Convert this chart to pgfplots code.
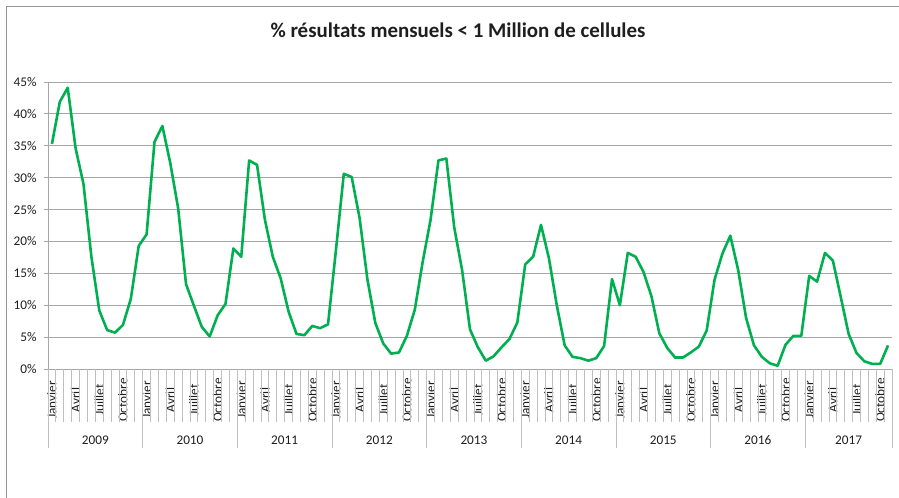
\documentclass[border=0pt]{standalone}
\usepackage{pgfplots}
\usepackage{pgfplotstable}
\pgfplotsset{compat=1.18}
\usepackage{fontspec}
\setmainfont{Carlito}
\definecolor{xlgreen}{RGB}{0,176,80}
\definecolor{gridgray}{RGB}{166,166,166}
\definecolor{sepgray}{RGB}{191,191,191}
\definecolor{framegray}{RGB}{150,150,150}
\definecolor{txt}{RGB}{30,30,30}
\pgfplotstableread{
v
35.3
41.9
44.1
34.6
29.0
17.6
9.2
6.1
5.7
6.9
11.0
19.3
21.1
35.6
38.1
32.3
25.2
13.3
9.9
6.6
5.1
8.4
10.2
18.9
17.6
32.7
32.0
23.4
17.6
14.2
9.0
5.5
5.3
6.75
6.4
7.0
18.6
30.6
30.1
23.7
14.0
7.2
4.0
2.4
2.6
5.2
9.3
16.8
23.4
32.7
33.0
22.2
15.5
6.2
3.4
1.3
2.0
3.4
4.7
7.3
16.4
17.6
22.6
17.4
10.0
3.7
1.9
1.7
1.3
1.7
3.6
14.1
10.0
18.2
17.6
15.2
11.4
5.6
3.3
1.8
1.8
2.6
3.5
6.0
14.0
18.1
20.9
15.5
8.0
3.7
1.9
0.9
0.5
3.8
5.2
5.2
14.6
13.7
18.2
17.0
11.3
5.5
2.5
1.2
0.8
0.8
3.7
}\datatable
\newcommand{\yr}{Janvier,{},{},Avril,{},{},Juillet,{},{},Octobre,{},{}}
\begin{document}
\begin{tikzpicture}[x=1bp,y=1bp]
\useasboundingbox (0,0) rectangle (899,498);
\draw[framegray, line width=0.9bp] (6,-20) -- (6,492) -- (920,492);
\node[txt, font=\fontsize{21}{25}\selectfont\bfseries] at (458,468) {\% résultats mensuels < 1 Million de cellules};
\begin{axis}[
  at={(48bp,129bp)}, anchor=south west,
  width=844bp, height=287bp, scale only axis,
  xmin=-0.5, xmax=106.5, ymin=0, ymax=45,
  ytick={0,5,...,45},
  yticklabels={0\%,5\%,10\%,15\%,20\%,25\%,30\%,35\%,40\%,45\%},
  ymajorgrids, grid style={gridgray, line width=0.8bp},
  axis x line*=bottom, axis y line*=left,
  axis line style={gridgray, line width=0.8bp, -},
  ytick style={gridgray, line width=0.8bp},
  xtick style={draw=none},
  major tick length=4bp, tick align=outside,
  xtick={0,...,106},
  xticklabels/.expanded={\yr,\yr,\yr,\yr,\yr,\yr,\yr,\yr,Janvier,{},{},Avril,{},{},Juillet,{},{},Octobre,{}},
  xticklabel style={yshift=-27bp, rotate=90, anchor=center, inner sep=0pt, font=\fontsize{13.3}{15}\selectfont, text=txt},
  yticklabel style={font=\fontsize{13.3}{15}\selectfont, text=txt, xshift=-4bp},
  clip=false,
]
\pgfplotsinvokeforeach{-0.5,0.5,...,106.5}{\draw[sepgray, line width=0.8bp] (axis cs:#1,0) -- ++(0pt,-53bp);}
\pgfplotsinvokeforeach{-0.5,11.5,23.5,35.5,47.5,59.5,71.5,83.5,95.5,106.5}{\draw[sepgray, line width=0.8bp] (axis cs:#1,0) -- ++(0pt,-79bp);}
\node[txt, font=\fontsize{13.3}{15}\selectfont] at (axis cs:5.5,0) [yshift=-71bp] {2009};
\node[txt, font=\fontsize{13.3}{15}\selectfont] at (axis cs:17.5,0) [yshift=-71bp] {2010};
\node[txt, font=\fontsize{13.3}{15}\selectfont] at (axis cs:29.5,0) [yshift=-71bp] {2011};
\node[txt, font=\fontsize{13.3}{15}\selectfont] at (axis cs:41.5,0) [yshift=-71bp] {2012};
\node[txt, font=\fontsize{13.3}{15}\selectfont] at (axis cs:53.5,0) [yshift=-71bp] {2013};
\node[txt, font=\fontsize{13.3}{15}\selectfont] at (axis cs:65.5,0) [yshift=-71bp] {2014};
\node[txt, font=\fontsize{13.3}{15}\selectfont] at (axis cs:77.5,0) [yshift=-71bp] {2015};
\node[txt, font=\fontsize{13.3}{15}\selectfont] at (axis cs:89.5,0) [yshift=-71bp] {2016};
\node[txt, font=\fontsize{13.3}{15}\selectfont] at (axis cs:101,0) [yshift=-71bp] {2017};
\addplot[xlgreen, line width=2.6bp, line join=round, mark=none] table[x expr=\coordindex, y=v] {\datatable};
\end{axis}
\end{tikzpicture}
\end{document}
